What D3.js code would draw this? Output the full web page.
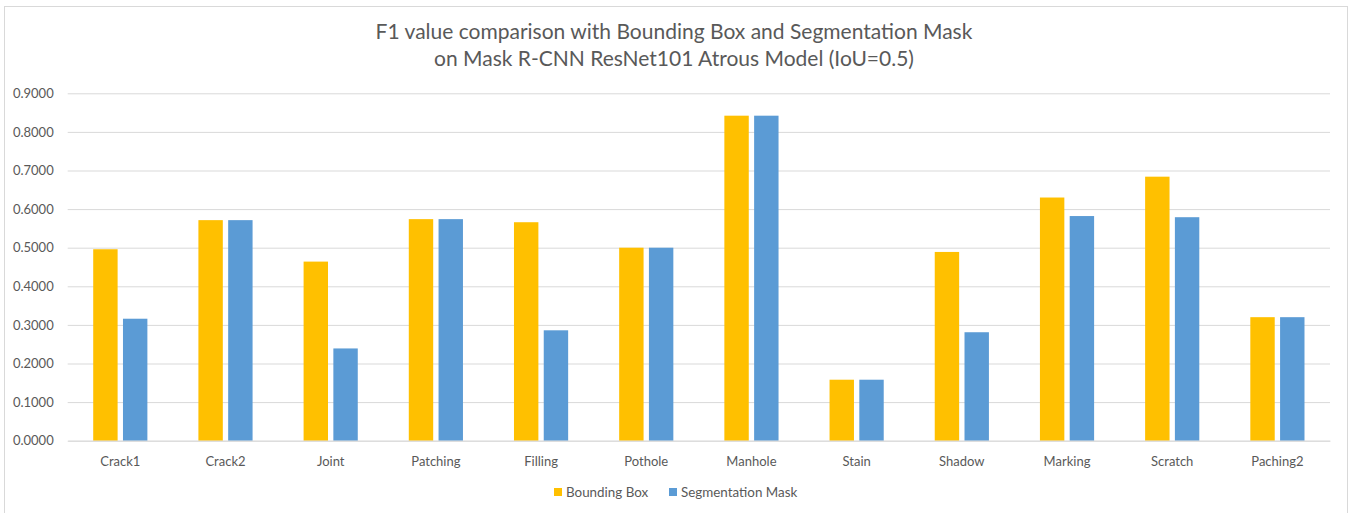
<!DOCTYPE html>
<html>
<head>
<meta charset="utf-8">
<script src="https://cdn.jsdelivr.net/npm/d3@7"></script>
<style>
  html, body { margin: 0; padding: 0; background: #fff; }
  svg { display: block; font-family: Lato, "Open Sans", sans-serif; }
</style>
</head>
<body>
<svg id="chart" width="1358" height="513"></svg>
<script>
// Damage classes on the x axis
const categories = ["Crack1", "Crack2", "Joint", "Patching", "Filling", "Pothole",
                    "Manhole", "Stain", "Shadow", "Marking", "Scratch", "Paching2"];
// F1 values per class
const boundingBox      = [0.4960, 0.5714, 0.4640, 0.5740, 0.5660, 0.5000,
                          0.8420, 0.1580, 0.4890, 0.6300, 0.6840, 0.3200];
const segmentationMask = [0.3160, 0.5714, 0.2390, 0.5740, 0.2860, 0.5000,
                          0.8420, 0.1580, 0.2810, 0.5820, 0.5790, 0.3200];
const seriesNames = ["Bounding Box", "Segmentation Mask"];
const seriesColors = ["#FFC000", "#5B9BD5"];
const yTicks = [0, 0.1, 0.2, 0.3, 0.4, 0.5, 0.6, 0.7, 0.8, 0.9];
const titleLines = ["F1 value comparison with Bounding Box and Segmentation Mask",
                    "on Mask R-CNN ResNet101 Atrous Model (IoU=0.5)"];

const svg = d3.select("#chart");
const W = 1358, H = 513;
const margin = { left: 67.7, right: 28, top: 93.3, bottom: 72.3 };
const plotW = W - margin.left - margin.right;
const plotH = H - margin.top - margin.bottom;

// chart frame
svg.append("rect")
  .attr("x", 4.5).attr("y", 6.5)
  .attr("width", 1343).attr("height", 520)
  .attr("fill", "#fff").attr("stroke", "#d9d9d9").attr("stroke-width", 1);

const g = svg.append("g").attr("transform", `translate(${margin.left},${margin.top})`);

const x0 = d3.scaleBand().domain(categories).range([0, plotW]).paddingInner(0).paddingOuter(0);
const groupW = x0.bandwidth() * 0.515;
const x1 = d3.scaleBand().domain(seriesNames)
  .range([(x0.bandwidth() - groupW) / 2, (x0.bandwidth() + groupW) / 2])
  .paddingInner(0.18);
const y = d3.scaleLinear().domain([0, 0.9]).range([plotH, 0]);

// horizontal gridlines + y labels
const yAxis = d3.axisLeft(y).tickValues(yTicks).tickFormat(d3.format(".4f"))
  .tickSize(-plotW).tickPadding(14);
const ya = g.append("g").call(yAxis);
ya.select(".domain").remove();
ya.selectAll(".tick line").attr("stroke", "#d9d9d9").attr("stroke-width", 1);
ya.selectAll(".tick text")
  .attr("fill", "#595959").attr("font-size", 13).attr("font-family", "Lato, sans-serif");

// bars
const seriesData = [boundingBox, segmentationMask];
const groups = g.selectAll("g.cat").data(categories).enter().append("g")
  .attr("class", "cat")
  .attr("transform", d => `translate(${x0(d)},0)`);
groups.selectAll("rect").data((c, i) => seriesNames.map((s, k) => ({ s, v: seriesData[k][i], k })))
  .enter().append("rect")
  .attr("x", d => x1(d.s))
  .attr("width", x1.bandwidth())
  .attr("y", d => y(d.v))
  .attr("height", d => y(0) - y(d.v))
  .attr("fill", d => seriesColors[d.k]);

// x axis
const xAxis = d3.axisBottom(x0).tickSize(0).tickPadding(16);
const xa = g.append("g").attr("transform", `translate(0,${plotH})`).call(xAxis);
xa.select(".domain").attr("stroke", "#d9d9d9");
xa.selectAll(".tick text")
  .attr("fill", "#595959").attr("font-size", 13).attr("font-family", "Lato, sans-serif");

// title
svg.append("g").selectAll("text").data(titleLines).enter().append("text")
  .attr("x", 674).attr("y", (d, i) => 39 + i * 27)
  .attr("text-anchor", "middle")
  .attr("fill", "#595959").attr("font-size", 21)
  .text(d => d);

// legend
const legendItems = [
  { name: seriesNames[0], color: seriesColors[0], x: 554 },
  { name: seriesNames[1], color: seriesColors[1], x: 669 }
];
const lg = svg.append("g");
lg.selectAll("rect").data(legendItems).enter().append("rect")
  .attr("x", d => d.x).attr("y", 488)
  .attr("width", 8).attr("height", 8)
  .attr("fill", d => d.color);
lg.selectAll("text").data(legendItems).enter().append("text")
  .attr("x", d => d.x + 12).attr("y", 497)
  .attr("fill", "#595959").attr("font-size", 13.4)
  .text(d => d.name);
</script>
</body>
</html>
